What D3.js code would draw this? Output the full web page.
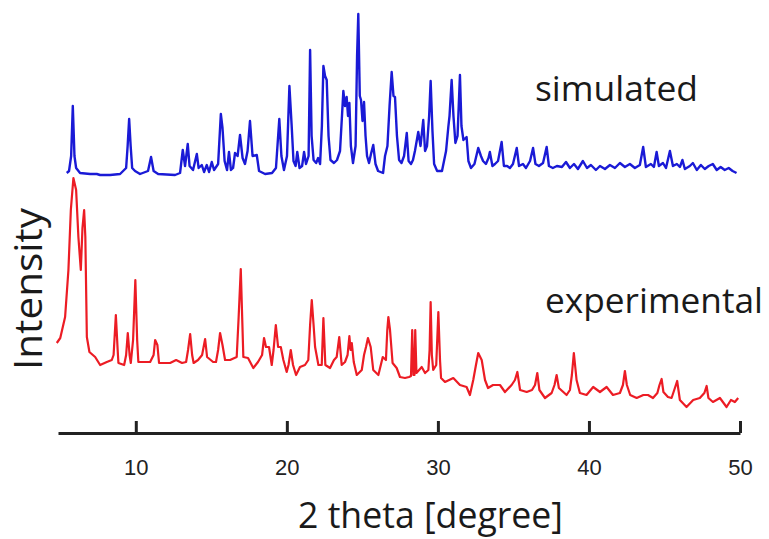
<!DOCTYPE html>
<html lang="en">
<head>
<meta charset="UTF-8">
<title>XRD pattern</title>
<script src="https://d3js.org/d3.v7.min.js"></script>
<style>
body { margin: 0; background: #fff; }
svg { display: block; }
.label { font-family: "Open Sans", sans-serif; fill: #1a1a1a; }
.axis text { font-family: "Liberation Sans", Arial, sans-serif; font-size: 22px; fill: #222; }
.axis path, .axis line { stroke: #222; stroke-width: 3; }
</style>
</head>
<body>
<svg width="769" height="539"></svg>
<script>
// 2 theta (degree), intensity (a.u.)
const expTheta = [4.77, 5.0, 5.32, 5.54, 5.70, 5.87, 6.05, 6.20, 6.36, 6.47, 6.58, 6.66, 6.76, 6.93, 7.31, 7.64, 8.08, 8.41, 8.53, 8.68, 8.80, 8.85, 9.23, 9.36, 9.47, 9.59, 9.67, 9.82, 9.97, 10.09, 10.17, 10.95, 11.18, 11.28, 11.43, 11.54, 12.27, 12.67, 13.06, 13.33, 13.46, 13.6, 13.73, 13.83, 14.12, 14.39, 14.59, 14.72, 15.12, 15.31, 15.45, 15.58, 15.74, 15.91, 16.24, 16.68, 16.80, 16.95, 17.12, 17.43, 17.78, 18.09, 18.36, 18.49, 18.62, 18.82, 19.0, 19.12, 19.27, 19.42, 19.60, 19.77, 19.99, 20.11, 20.26, 20.41, 20.61, 20.87, 21.2, 21.42, 21.54, 21.65, 21.77, 21.87, 22.09, 22.31, 22.42, 22.55, 22.86, 23.12, 23.30, 23.47, 23.63, 23.85, 24.02, 24.14, 24.22, 24.30, 24.43, 24.63, 24.96, 25.11, 25.24, 25.37, 25.55, 25.72, 26.06, 26.35, 26.56, 26.65, 26.72, 26.83, 27.0, 27.27, 27.49, 27.82, 28.09, 28.22, 28.30, 28.38, 28.45, 28.50, 28.58, 28.93, 29.15, 29.37, 29.45, 29.52, 29.60, 29.69, 29.89, 30.03, 30.14, 30.21, 30.47, 31.02, 31.46, 31.90, 32.12, 32.34, 32.52, 32.67, 32.90, 33.12, 33.32, 33.65, 34.11, 34.44, 34.88, 35.1, 35.26, 35.44, 35.88, 36.23, 36.43, 36.58, 36.72, 37.09, 37.53, 37.72, 37.86, 38.01, 38.52, 38.74, 38.87, 39.0, 39.18, 39.40, 39.84, 40.28, 40.73, 41.17, 41.59, 42.05, 42.25, 42.38, 42.51, 42.73, 43.16, 43.60, 43.91, 44.24, 44.53, 44.67, 44.81, 44.93, 45.23, 45.47, 45.69, 45.84, 46.02, 46.46, 46.90, 47.34, 47.64, 47.79, 47.91, 48.21, 48.67, 49.11, 49.40, 49.66, 49.88];
const expIntensity = [67, 72, 93, 140, 200, 232, 220, 173, 140, 182, 200, 173, 73, 58, 53, 45, 48, 50, 55, 95, 60, 47, 45, 55, 77, 55, 47, 70, 130, 70, 48, 48, 55, 70, 65, 47, 47, 50, 47, 48, 60, 76, 55, 47, 50, 55, 71, 53, 48, 48, 60, 77, 65, 50, 50, 53, 90, 141, 53, 52, 42, 48, 55, 72, 63, 63, 45, 60, 85, 63, 63, 50, 38, 45, 60, 45, 35, 43, 45, 50, 85, 110, 85, 63, 45, 45, 92, 45, 42, 50, 53, 73, 45, 48, 55, 74, 60, 67, 48, 35, 40, 55, 63, 72, 63, 40, 35, 53, 50, 80, 93, 80, 47, 42, 33, 32, 33, 34, 80, 35, 35, 80, 37, 43, 37, 40, 60, 108, 55, 40, 45, 98, 50, 32, 28, 32, 25, 23, 15, 30, 45, 57, 50, 30, 22, 25, 25, 18, 25, 30, 38, 20, 18, 20, 25, 37, 20, 12, 17, 25, 35, 22, 15, 20, 35, 57, 30, 17, 15, 23, 18, 23, 15, 17, 25, 39, 25, 15, 12, 15, 15, 12, 17, 25, 31, 18, 13, 12, 22, 29, 10, 3, 10, 12, 17, 24, 12, 8, 12, 3, 10, 8, 12];

const simTheta = [5.43, 5.58, 5.72, 5.83, 5.94, 6.05, 6.31, 6.98, 7.42, 7.64, 8.30, 8.96, 9.36, 9.46, 9.56, 9.66, 9.76, 9.95, 10.28, 10.81, 11.01, 11.18, 11.48, 12.6, 12.93, 13.11, 13.26, 13.44, 13.56, 13.79, 14.04, 14.16, 14.37, 14.52, 14.70, 14.85, 15.03, 15.18, 15.45, 15.63, 15.74, 15.88, 16.04, 16.17, 16.30, 16.44, 16.57, 16.74, 16.90, 17.07, 17.23, 17.40, 17.56, 17.73, 18.01, 18.16, 18.56, 19.02, 19.28, 19.50, 19.64, 19.81, 20.01, 20.17, 20.32, 20.44, 20.58, 20.69, 20.84, 21.01, 21.14, 21.27, 21.44, 21.54, 21.64, 21.77, 21.94, 22.07, 22.20, 22.32, 22.42, 22.53, 22.64, 22.76, 22.89, 23.12, 23.32, 23.52, 23.65, 23.74, 23.85, 23.96, 24.05, 24.14, 24.24, 24.38, 24.55, 24.65, 24.73, 24.83, 24.91, 25.01, 25.11, 25.21, 25.31, 25.44, 25.57, 25.72, 25.87, 26.04, 26.37, 26.50, 26.66, 26.80, 26.94, 27.06, 27.16, 27.29, 27.43, 27.59, 27.76, 27.94, 28.06, 28.22, 28.35, 28.48, 28.70, 28.85, 29.03, 29.15, 29.28, 29.42, 29.52, 29.64, 29.75, 29.95, 30.27, 30.54, 30.69, 30.77, 30.91, 31.03, 31.16, 31.30, 31.46, 31.56, 31.69, 31.90, 32.02, 32.19, 32.42, 32.67, 32.85, 32.99, 33.18, 33.35, 33.44, 33.61, 33.78, 33.98, 34.22, 34.37, 34.58, 34.77, 34.97, 35.22, 35.37, 35.63, 35.83, 36.10, 36.30, 36.46, 36.69, 36.96, 37.20, 37.35, 37.61, 37.88, 38.21, 38.48, 38.74, 39.01, 39.27, 39.60, 39.87, 40.13, 40.46, 40.73, 41.06, 41.39, 41.72, 42.05, 42.38, 42.71, 43.04, 43.37, 43.59, 43.77, 44.10, 44.30, 44.48, 44.63, 44.90, 45.10, 45.36, 45.56, 45.82, 46.02, 46.19, 46.35, 46.68, 46.88, 47.14, 47.41, 47.67, 47.93, 48.20, 48.46, 48.72, 48.99, 49.25, 49.51, 49.77];
const simIntensity = [3, 5, 20, 70, 20, 8, 3, 2, 2, 1, 1, 2, 8, 30, 57, 30, 8, 5, 2, 5, 19, 5, 2, 1, 3, 26, 10, 32, 10, 6, 22, 8, 11, 4, 11, 4, 14, 6, 12, 62, 48, 15, 6, 24, 6, 8, 23, 20, 41, 18, 12, 25, 55, 20, 21, 5, 2, 3, 8, 57, 20, 6, 20, 90, 50, 15, 10, 24, 8, 10, 24, 12, 20, 126, 40, 16, 13, 18, 12, 50, 110, 100, 96, 40, 16, 13, 16, 25, 60, 85, 70, 79, 60, 73, 30, 13, 30, 120, 162, 80, 76, 55, 74, 40, 20, 13, 22, 31, 12, 5, 3, 20, 30, 70, 104, 80, 79, 40, 16, 13, 20, 43, 15, 12, 16, 25, 44, 30, 56, 25, 30, 60, 95, 45, 12, 5, 5, 25, 49, 60, 96, 60, 33, 40, 101, 50, 36, 39, 15, 8, 12, 28, 20, 15, 12, 18, 24, 10, 12, 15, 34, 10, 10, 8, 12, 28, 10, 12, 8, 15, 28, 12, 10, 13, 29, 10, 8, 10, 9, 14, 8, 12, 7, 15, 8, 11, 6, 10, 7, 11, 8, 13, 9, 12, 8, 11, 29, 9, 12, 9, 24, 10, 13, 8, 25, 10, 12, 9, 16, 7, 10, 13, 6, 11, 7, 10, 12, 6, 9, 6, 8, 5, 3];

const simOffset = 234;
const xTicks = [10, 20, 30, 40, 50];

const svg = d3.select("svg");

const x = d3.scaleLinear().domain([4.85, 50]).range([58, 740]);
const y = d3.scaleLinear().domain([0, 400]).range([410, 10]);

const line = d3.line()
    .x(function(d) { return x(d[0]); })
    .y(function(d) { return y(d[1]); });

// simulated pattern, shifted up
svg.append("path")
    .datum(d3.zip(simTheta, simIntensity.map(function(v) { return v + simOffset; })))
    .attr("fill", "none")
    .attr("stroke", "#1a1ad6")
    .attr("stroke-width", 2.4)
    .attr("stroke-linejoin", "round")
    .attr("d", line);

// experimental pattern
svg.append("path")
    .datum(d3.zip(expTheta, expIntensity))
    .attr("fill", "none")
    .attr("stroke", "#ec1c24")
    .attr("stroke-width", 2.2)
    .attr("stroke-linejoin", "round")
    .attr("d", line);

// x axis, ticks pointing up
svg.append("g")
    .attr("class", "axis")
    .attr("transform", "translate(0,433)")
    .call(d3.axisBottom(x).tickValues(xTicks).tickSize(-12).tickSizeOuter(0).tickPadding(26))
  .selectAll("text")
    .attr("dy", "0.71em");

svg.append("text")
    .attr("class", "label")
    .attr("x", 298).attr("y", 528)
    .attr("font-size", 36)
    .attr("textLength", 265)
    .attr("lengthAdjust", "spacingAndGlyphs")
    .text("2 theta [degree]");

svg.append("text")
    .attr("class", "label")
    .attr("transform", "translate(42,289) rotate(-90)")
    .attr("text-anchor", "middle")
    .attr("font-size", 38)
    .attr("textLength", 162)
    .attr("lengthAdjust", "spacingAndGlyphs")
    .text("Intensity");

svg.append("text")
    .attr("class", "label")
    .attr("x", 535).attr("y", 101)
    .attr("font-size", 34)
    .attr("textLength", 163)
    .attr("lengthAdjust", "spacingAndGlyphs")
    .text("simulated");

svg.append("text")
    .attr("class", "label")
    .attr("x", 545).attr("y", 313)
    .attr("font-size", 34)
    .attr("textLength", 218)
    .attr("lengthAdjust", "spacingAndGlyphs")
    .text("experimental");
</script>
</body>
</html>
